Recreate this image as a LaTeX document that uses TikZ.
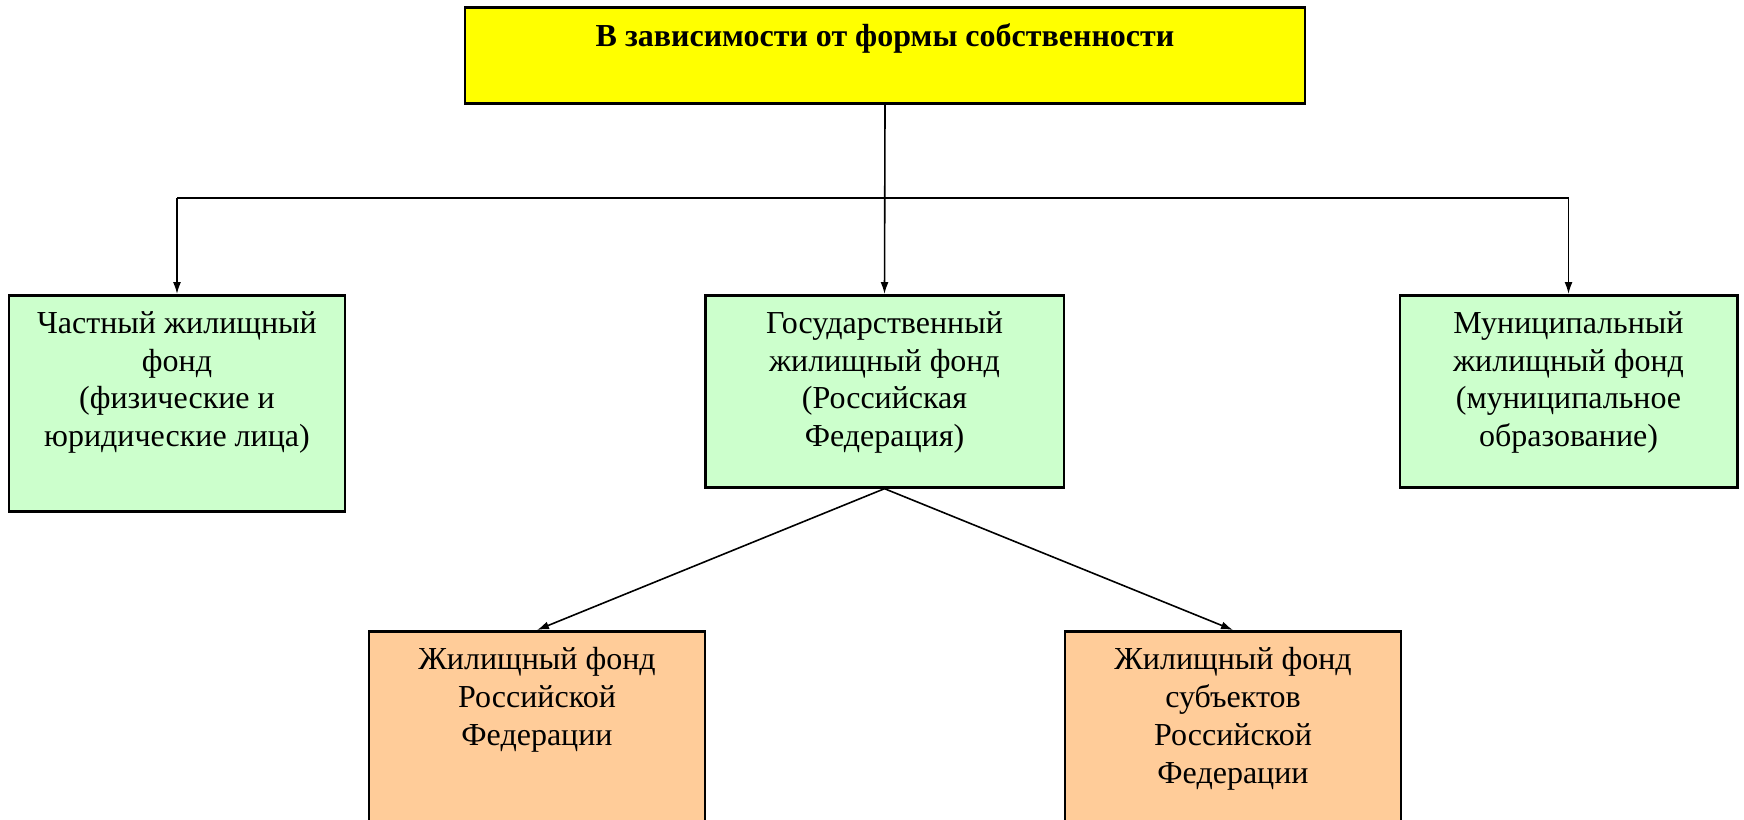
\documentclass[tikz,border=0pt]{standalone}
\usepackage{fontspec}
\setmainfont{Liberation Serif}
\usepackage{tikz}
\usetikzlibrary{arrows.meta}
\definecolor{zheltyj}{HTML}{FFFF00}
\definecolor{zelenyj}{HTML}{CCFFCC}
\definecolor{persik}{HTML}{FFCC99}
\tikzset{
	box/.style={draw,line width=2pt,anchor=north,inner sep=0pt},
	txt/.style={anchor=north,align=center,inner sep=0pt,yshift=-13pt,font=\fontsize{24}{28.3}\selectfont},
	arr/.style={-{Latex[length=9pt,width=6pt]},line width=1.2pt}
}
\begin{document}
\begin{tikzpicture}[x=0.75pt,y=-0.75pt]
	\useasboundingbox (0,0) rectangle (1744,819);
	\clip (0,0) rectangle (1744,819);
	\node[box,fill=zheltyj,minimum width=630pt,minimum height=72pt,label={[txt,font=\bfseries\fontsize{24}{28.3}\selectfont]north:{В зависимости от формы собственности}}] (forma) at (885,6) {};
	\node[box,fill=zelenyj,minimum width=252pt,minimum height=162pt,label={[txt]north:{Частный жилищный\\фонд\\(физические и\\юридические лица)}}] (chast) at (177,294) {};
	\node[box,fill=zelenyj,minimum width=269pt,minimum height=144pt,label={[txt]north:{Государственный\\жилищный фонд\\(Российская\\Федерация)}}] (gos) at (884.5,294) {};
	\node[box,fill=zelenyj,minimum width=253pt,minimum height=144pt,label={[txt]north:{Муниципальный\\жилищный фонд\\(муниципальное\\образование)}}] (mun) at (1568.5,294) {};
	\node[box,fill=persik,minimum width=252pt,minimum height=160pt,label={[txt]north:{Жилищный фонд\\Российской\\Федерации}}] (rf) at (537,630) {};
	\node[box,fill=persik,minimum width=252pt,minimum height=160pt,label={[txt]north:{Жилищный фонд\\субъектов\\Российской\\Федерации}}] (subj) at (1233,630) {};
	\coordinate (shina) at (885,198);
	\draw[arr] (forma.south) -- (gos.north);
	\draw[line width=1.2pt] (chast.north |- shina) -- (mun.north |- shina);
	\draw[arr] (chast.north |- shina) -- (chast.north);
	\draw[arr] (mun.north |- shina) -- (mun.north);
	\draw[arr] (gos.south) -- (rf.north);
	\draw[arr] (gos.south) -- (subj.north);
\end{tikzpicture}
\end{document}
